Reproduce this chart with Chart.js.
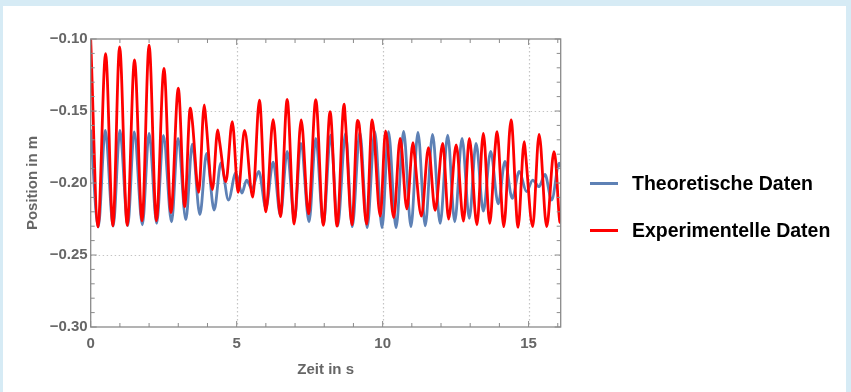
<!DOCTYPE html>
<html>
<head>
<meta charset="utf-8">
<script src="https://cdn.jsdelivr.net/npm/chart.js@4.4.0/dist/chart.umd.min.js"></script>
<style>
  html, body { margin: 0; padding: 0; }
  body {
    width: 851px; height: 392px; overflow: hidden; position: relative;
    background: #d6ebf5;
    font-family: "Liberation Sans", Arial, sans-serif;
  }
  #panel { position: absolute; left: 3px; top: 6px; width: 843px; height: 386px; background: #fff; }
  #chart { position: absolute; left: 0; top: 0; }
  .leg { position: absolute; left: 587px; height: 20px; }
  .leg .swatch { position: absolute; left: 0; top: 8.5px; width: 28px; height: 3px; }
  .leg .label {
    position: absolute; left: 42px; top: 0; white-space: nowrap;
    font-size: 19.5px; line-height: 20px; font-weight: bold; color: #000;
  }
</style>
</head>
<body>
<div id="panel">
  <canvas id="chart" width="843" height="386"></canvas>
  <div class="leg" style="top:167px"><span class="swatch" style="background:#5e81b5"></span><span class="label">Theoretische Daten</span></div>
  <div class="leg" style="top:214px"><span class="swatch" style="background:#ff0000"></span><span class="label">Experimentelle Daten</span></div>
</div>
<script>
// Achsen
const xTickValues = [0, 5, 10, 15];
const yTickValues = [-0.30, -0.25, -0.20, -0.15, -0.10];

const theoTime = [
  0, 0.26, 0.50, 0.77, 1.00, 1.27, 1.49, 1.77, 2.00, 2.26, 2.49, 2.77, 2.99, 3.26, 3.48, 3.74,
  3.97, 4.23, 4.46, 4.72, 4.97, 5.18, 5.34, 5.52, 5.76, 6.00, 6.25, 6.50, 6.73, 6.98, 7.20, 7.48,
  7.71, 7.97, 8.22, 8.46, 8.73, 8.96, 9.22, 9.47, 9.73, 9.98, 10.20, 10.46, 10.72, 10.97, 11.21,
  11.46, 11.71, 11.97, 12.23, 12.47, 12.72, 12.97, 13.20, 13.45, 13.70, 13.96, 14.19, 14.44,
  14.68, 14.93, 15.14, 15.36, 15.56, 15.79, 16.05, 16.10
];
const theoPos = [
  -0.1630, -0.2305, -0.1635, -0.2300, -0.1635, -0.2295, -0.1645, -0.2290, -0.1655, -0.2280,
  -0.1670, -0.2270, -0.1690, -0.2255, -0.1730, -0.2220, -0.1795, -0.2188, -0.1860, -0.2118,
  -0.1930, -0.2070, -0.1980, -0.2040, -0.1920, -0.2174, -0.1855, -0.2225, -0.1780, -0.2255,
  -0.1725, -0.2270, -0.1690, -0.2287, -0.1667, -0.2297, -0.1655, -0.2303, -0.1648, -0.2310,
  -0.1644, -0.2310, -0.1644, -0.2310, -0.1641, -0.2303, -0.1648, -0.2297, -0.1662, -0.2280,
  -0.1667, -0.2269, -0.1690, -0.2245, -0.1725, -0.2195, -0.1780, -0.2145, -0.1850, -0.2106,
  -0.1920, -0.2060, -0.1980, -0.2025, -0.1940, -0.2118, -0.1863, -0.1890
];

// Experimentelle Daten
const expTime = [
  0, 0.25, 0.51, 0.76, 0.99, 1.25, 1.50, 1.76, 2.00, 2.25, 2.51, 2.75, 3.00, 3.22, 3.41, 3.48,
  3.70, 3.89, 3.95, 4.17, 4.35, 4.42, 4.63, 4.85, 5.05, 5.27, 5.55, 5.78, 6.00, 6.25, 6.50, 6.73,
  6.97, 7.21, 7.46, 7.71, 7.97, 8.20, 8.44, 8.68, 8.73, 8.95, 9.14, 9.20, 9.45, 9.64, 9.92, 10.10,
  10.38, 10.60, 10.83, 11.04, 11.08, 11.33, 11.57, 11.80, 12.06, 12.26, 12.52, 12.77, 12.97,
  13.23, 13.45, 13.67, 13.84, 13.92, 14.15, 14.40, 14.64, 14.85, 14.90, 15.14, 15.36, 15.62,
  15.87, 15.93, 16.07, 16.10
];
const expPos = [
  -0.1000, -0.2305, -0.1102, -0.2298, -0.1055, -0.2294, -0.1146, -0.2262, -0.1042, -0.2262,
  -0.1204, -0.2205, -0.1342, -0.2164, -0.1481, -0.1570, -0.2065, -0.1458, -0.1570, -0.2045,
  -0.1632, -0.1720, -0.1991, -0.1574, -0.2065, -0.1635, -0.2098, -0.1424, -0.2200, -0.1560,
  -0.2234, -0.1420, -0.2285, -0.1562, -0.2215, -0.1422, -0.2294, -0.1505, -0.2300, -0.1452,
  -0.1580, -0.2290, -0.1565, -0.1600, -0.2285, -0.1562, -0.2230, -0.1638, -0.2240, -0.1690,
  -0.2180, -0.1720, -0.1780, -0.2230, -0.1755, -0.2190, -0.1725, -0.2250, -0.1735, -0.2265,
  -0.1690, -0.2290, -0.1655, -0.2280, -0.1790, -0.1644, -0.2303, -0.1562, -0.2308, -0.1713,
  -0.1806, -0.2303, -0.1662, -0.2303, -0.1782, -0.1850, -0.2269, -0.2275
];

const labelFont = { family: '"Liberation Sans", Arial, sans-serif', size: 15, weight: 'bold' };
const axisGrey = '#666666';

function toPoints(ts, vs) {
  return ts.map((t, i) => ({ x: t, y: vs[i] }));
}

// gepunktetes Gitter, Rahmen und Striche nach innen
const frameTicks = {
  id: 'frameTicks',
  beforeDatasetsDraw(chart) {
    const { ctx, chartArea: a, scales: { x, y } } = chart;
    ctx.save();
    ctx.strokeStyle = '#c4c4c4';
    ctx.lineWidth = 1.2;
    ctx.setLineDash([1.4, 2.6]);
    ctx.beginPath();
    xTickValues.forEach(v => {
      if (v <= x.min || v >= x.max) return;
      const px = Math.round(x.getPixelForValue(v)) + 0.5;
      ctx.moveTo(px, a.top); ctx.lineTo(px, a.bottom);
    });
    yTickValues.forEach(v => {
      if (v <= y.min + 1e-9 || v >= y.max - 1e-9) return;
      const py = Math.round(y.getPixelForValue(v)) + 0.5;
      ctx.moveTo(a.left, py); ctx.lineTo(a.right, py);
    });
    ctx.stroke();
    ctx.restore();
  },
  afterDatasetsDraw(chart) {
    const { ctx, chartArea: a, scales: { x, y } } = chart;
    ctx.save();
    ctx.strokeStyle = '#8a8a8a';
    ctx.lineWidth = 1.3;
    ctx.strokeRect(a.left, a.top, a.right - a.left, a.bottom - a.top);
    ctx.lineWidth = 1;
    ctx.beginPath();
    for (let v = 0; v <= x.max; v += 1) {
      const px = x.getPixelForValue(v);
      const len = v % 5 === 0 ? 6 : 4;
      ctx.moveTo(px, a.bottom); ctx.lineTo(px, a.bottom - len);
      ctx.moveTo(px, a.top); ctx.lineTo(px, a.top + len);
    }
    for (let i = 0; i <= 20; i++) {
      const v = -0.30 + i * 0.01;
      const py = y.getPixelForValue(v);
      const len = i % 5 === 0 ? 6 : 4;
      ctx.moveTo(a.left, py); ctx.lineTo(a.left + len, py);
      ctx.moveTo(a.right, py); ctx.lineTo(a.right - len, py);
    }
    ctx.stroke();
    ctx.restore();
  }
};

function setupChart() {
  const ctx = document.getElementById('chart');
  new Chart(ctx, {
    type: 'line',
    data: {
      datasets: [
        {
          label: 'Theoretische Daten',
          data: toPoints(theoTime, theoPos),
          borderColor: '#5e81b5',
          borderWidth: 2.8,
          pointRadius: 0,
          cubicInterpolationMode: 'monotone',
          order: 1
        },
        {
          label: 'Experimentelle Daten',
          data: toPoints(expTime, expPos),
          borderColor: '#ff0000',
          borderWidth: 2.8,
          pointRadius: 0,
          cubicInterpolationMode: 'monotone',
          order: 0
        }
      ]
    },
    options: {
      responsive: false,
      animation: false,
      layout: { padding: { left: 0, top: 33, right: 285.3, bottom: 0 } },
      plugins: {
        legend: { display: false },
        tooltip: { enabled: false }
      },
      scales: {
        x: {
          type: 'linear',
          min: 0,
          max: 16.1,
          afterBuildTicks: s => { s.ticks = xTickValues.map(v => ({ value: v })); },
          afterFit: s => { s.height = 65; },
          grid: { display: false, drawTicks: false },
          border: { display: false },
          ticks: { padding: 8, color: axisGrey, font: labelFont, maxRotation: 0, autoSkip: false },
          title: {
            display: true, text: 'Zeit in s', color: axisGrey, font: labelFont,
            padding: { top: 0, bottom: 13 }
          }
        },
        y: {
          type: 'linear',
          min: -0.30,
          max: -0.10,
          afterBuildTicks: s => { s.ticks = yTickValues.map(v => ({ value: v })); },
          afterFit: s => { s.width = 87.7; },
          grid: { display: false, drawTicks: false },
          border: { display: false },
          ticks: {
            padding: 3, color: axisGrey, font: labelFont, autoSkip: false,
            callback: v => '\u2212' + Math.abs(v).toFixed(2)
          },
          title: {
            display: true, text: 'Position in m', color: axisGrey, font: labelFont,
            padding: { top: 21, bottom: 0 }
          }
        }
      }
    },
    plugins: [frameTicks]
  });
}

document.addEventListener('DOMContentLoaded', setupChart);
</script>
</body>
</html>
